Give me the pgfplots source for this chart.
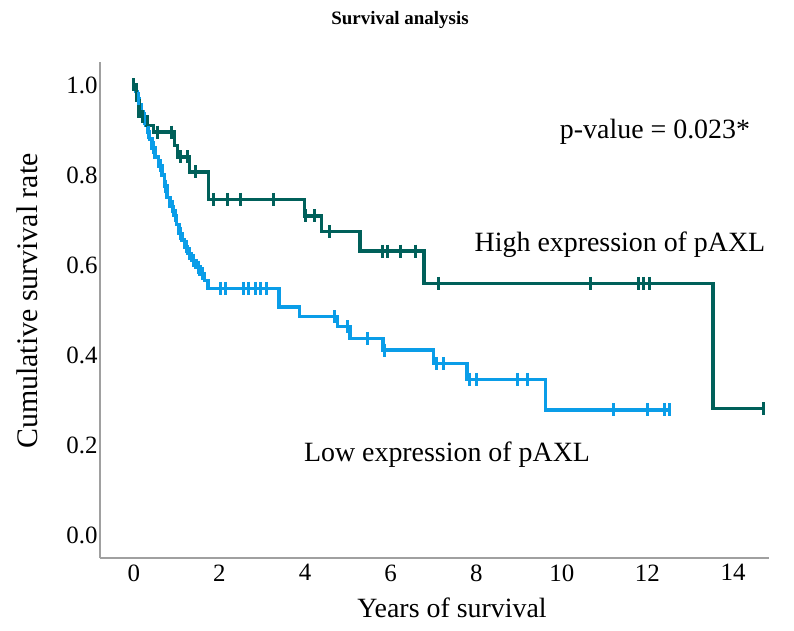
\documentclass[border=0pt]{standalone}
\usepackage{fontspec}
\setmainfont{Liberation Serif}
\usepackage{pgfplots}
\pgfplotsset{compat=1.18}
\definecolor{hiteal}{HTML}{00605A}
\definecolor{loblue}{HTML}{0A9DE8}
\definecolor{spine}{HTML}{A0A0A0}

\begin{document}
\begin{tikzpicture}
\useasboundingbox[fill=white] (0,0) rectangle (794bp,631bp);
\begin{axis}[
  at={(100bp,73bp)}, anchor=south west,
  scale only axis, width=669bp, height=496bp,
  xmin=-0.79, xmax=14.84, ymin=-0.051, ymax=1.051,
  axis x line*=bottom, axis y line*=left,
  axis line style={spine, line width=1.2bp},
  xtick={0,2,...,14}, ytick={0,0.2,0.4,0.6,0.8,1.0},
  major tick length=0pt,
  tick label style={font=\fontsize{25}{29}\selectfont},
  /pgf/number format/assume math mode=true,
  yticklabel style={/pgf/number format/fixed, /pgf/number format/fixed zerofill,
    /pgf/number format/precision=1, xshift=1bp},
  xticklabel style={yshift=-3bp},
  clip=false,
]
% low expression of pAXL
\addplot[const plot, loblue, line width=3.5bp] coordinates {
  (0,1.0) (0.04,0.985) (0.08,0.97) (0.12,0.955) (0.17,0.94) (0.22,0.925)
  (0.27,0.91) (0.32,0.895) (0.37,0.88) (0.42,0.86) (0.5,0.84) (0.58,0.82)
  (0.66,0.80) (0.72,0.775) (0.78,0.75) (0.85,0.73) (0.93,0.71) (1.0,0.69)
  (1.06,0.67) (1.12,0.655) (1.18,0.64) (1.26,0.625) (1.35,0.61) (1.45,0.595)
  (1.55,0.58) (1.65,0.565) (1.73,0.548) (3.39,0.507) (3.87,0.485) (4.76,0.463)
  (5.05,0.437) (5.82,0.411) (7.0,0.381) (7.78,0.346) (9.62,0.278) (12.52,0.278)
};
\addplot[only marks, loblue, mark=|, mark size=6.5bp, mark options={line width=3bp}] coordinates {
  (0.1,0.97) (0.25,0.925) (0.35,0.895) (0.46,0.86) (0.62,0.82) (0.75,0.775)
  (0.9,0.73) (0.97,0.71) (1.09,0.67) (1.22,0.64) (1.3,0.625) (1.4,0.61)
  (1.5,0.595) (1.6,0.58) (2.03,0.548) (2.15,0.548) (2.57,0.548) (2.69,0.548)
  (2.85,0.548) (2.97,0.548) (3.1,0.548) (4.7,0.485) (5.0,0.463) (5.47,0.437)
  (5.85,0.411) (7.08,0.381) (7.24,0.381) (7.85,0.346) (8.0,0.346) (8.97,0.346)
  (9.2,0.346) (11.2,0.278) (12.0,0.278) (12.4,0.278) (12.52,0.278)
};
% high expression of pAXL
\addplot[const plot, hiteal, line width=3.5bp] coordinates {
  (0,1.0) (0.06,0.965) (0.12,0.93) (0.31,0.91) (0.46,0.895) (0.95,0.865)
  (1.02,0.84) (1.3,0.807) (1.75,0.746) (3.99,0.709) (4.39,0.674) (5.28,0.631)
  (6.78,0.559) (13.53,0.281) (14.7,0.281)
};
\addplot[only marks, hiteal, mark=|, mark size=6.5bp, mark options={line width=3bp}] coordinates {
  (0,1.0) (0.2,0.93) (0.56,0.895) (0.87,0.895) (1.1,0.84) (1.25,0.84)
  (1.45,0.807) (1.85,0.746) (2.2,0.746) (2.5,0.746) (3.27,0.746) (4.02,0.709)
  (4.23,0.709) (4.58,0.674) (5.82,0.631) (5.93,0.631) (6.24,0.631) (6.59,0.631)
  (7.13,0.559) (10.68,0.559) (11.8,0.559) (11.9,0.559) (12.05,0.559) (14.7,0.281)
};
\end{axis}
\node at (400bp,611bp) {\fontsize{19}{22}\selectfont\bfseries Survival analysis};
\node[rotate=90] at (27bp,330bp) {\fontsize{30}{34}\selectfont Cumulative survival rate};
\node at (452bp,23bp) {\fontsize{28}{32}\selectfont Years of survival};
\node at (655bp,499bp) {\fontsize{28}{32}\selectfont p-value = 0.023*};
\node at (620bp,386bp) {\fontsize{28}{32}\selectfont High expression of pAXL};
\node at (447bp,176bp) {\fontsize{28}{32}\selectfont Low expression of pAXL};
\end{tikzpicture}
\end{document}
